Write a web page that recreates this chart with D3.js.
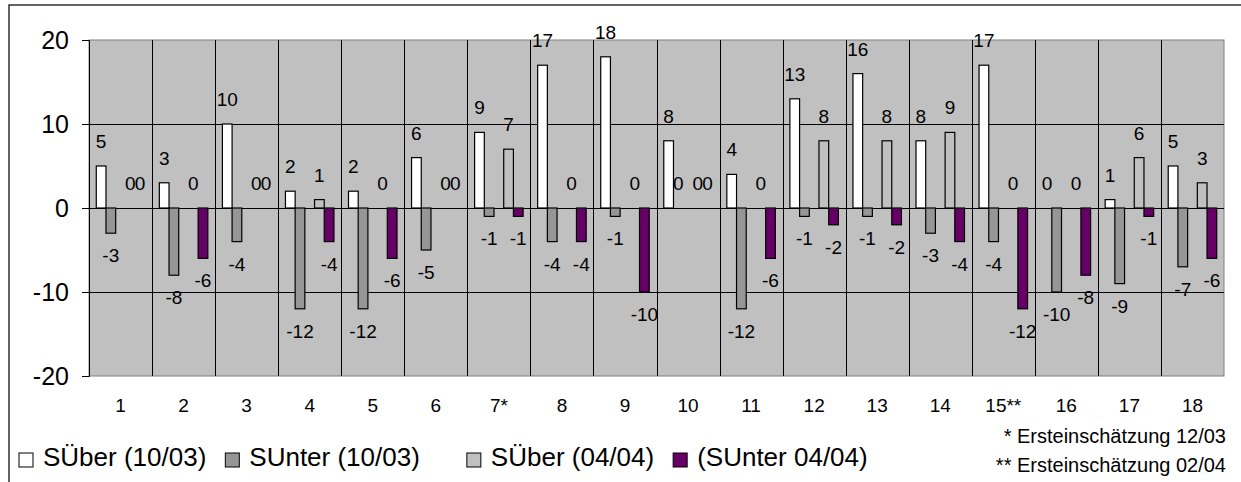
<!DOCTYPE html>
<html>
<head>
<meta charset="utf-8">
<script src="https://cdn.jsdelivr.net/npm/d3@7"></script>
<style>
  body { margin: 0; background: #fff; }
  text { font-family: "Liberation Sans", Arial, sans-serif; fill: #000; }
</style>
</head>
<body>
<div id="chart"></div>
<script>
// data
var categories = ["1","2","3","4","5","6","7*","8","9","10","11","12","13","14","15**","16","17","18"];
var seriesNames = ["SÜber (10/03)", "SUnter (10/03)", "", "SÜber (04/04)", "(SUnter 04/04)"];
var sUeber1003 = [5, 3, 10, 2, 2, 6, 9, 17, 18, 8, 4, 13, 16, 8, 17, 0, 1, 5];
var sUnter1003 = [-3, -8, -4, -12, -12, -5, -1, -4, -1, 0, -12, -1, -1, -3, -4, -10, -9, -7];
var sUeber0404 = [0, 0, 0, 1, 0, 0, 7, 0, 0, 0, 0, 8, 8, 9, 0, 0, 6, 3];
var sUnter0404 = [0, -6, 0, -4, -6, 0, -1, -4, -10, 0, -6, -2, -2, -4, -12, -8, -1, -6];
var yTicks = [-20, -10, 0, 10, 20];
var footnotes = ["* Ersteinschätzung 12/03", "** Ersteinschätzung 02/04"];

var seriesValues = [sUeber1003, sUnter1003, null, sUeber0404, sUnter0404];
var seriesColors = ["#ffffff", "#969696", null, "#c0c0c0", "#660066"];

var width = 1241, height = 482;
var plot = { left: 89, right: 1224, top: 40, bottom: 376 };

var svg = d3.select("#chart").append("svg")
    .attr("width", width)
    .attr("height", height);

// outer chart frame (right and bottom run off the picture)
svg.append("rect")
    .attr("x", 9).attr("y", 5)
    .attr("width", 1300).attr("height", 600)
    .attr("fill", "none")
    .attr("stroke", "#111")
    .attr("stroke-width", 1.3);

var x = d3.scaleBand()
    .domain(categories)
    .range([plot.left, plot.right])
    .padding(0);

var slot = d3.scaleBand()
    .domain(d3.range(seriesNames.length))
    .range([0, x.bandwidth()])
    .paddingInner(0)
    .paddingOuter(0.75);

var y = d3.scaleLinear()
    .domain([-20, 20])
    .range([plot.bottom, plot.top]);

// plot area
svg.append("rect")
    .attr("x", plot.left).attr("y", plot.top)
    .attr("width", plot.right - plot.left)
    .attr("height", plot.bottom - plot.top)
    .attr("fill", "#c0c0c0")
    .attr("stroke", "#808080")
    .attr("stroke-width", 1);

// horizontal gridlines
svg.selectAll(".hgrid")
    .data(yTicks.filter(function(d) { return d > -20 && d < 20; }))
    .enter().append("line")
    .attr("class", "hgrid")
    .attr("x1", plot.left).attr("x2", plot.right)
    .attr("y1", function(d) { return Math.round(y(d)) + 0.5; })
    .attr("y2", function(d) { return Math.round(y(d)) + 0.5; })
    .attr("stroke", "#000");

// vertical category separators
svg.selectAll(".vgrid")
    .data(categories.slice(1))
    .enter().append("line")
    .attr("class", "vgrid")
    .attr("x1", function(d) { return Math.round(x(d)) + 0.5; })
    .attr("x2", function(d) { return Math.round(x(d)) + 0.5; })
    .attr("y1", plot.top).attr("y2", plot.bottom)
    .attr("stroke", "#000");

// y axis
var yAxis = svg.append("g")
    .attr("transform", "translate(" + plot.left + ",0)")
    .call(d3.axisLeft(y).tickValues(yTicks).tickSize(7).tickPadding(13)
      .tickFormat(function(d) { return String(d); }));
yAxis.select(".domain").attr("stroke", "#000");
yAxis.selectAll(".tick line").attr("stroke", "#000");
yAxis.selectAll("text")
    .style("font-size", "25px")
    .attr("fill", "#000");

// category labels
svg.selectAll(".cat")
    .data(categories)
    .enter().append("text")
    .attr("class", "cat")
    .attr("x", function(d) { return x(d) + x.bandwidth() / 2; })
    .attr("y", 412)
    .attr("text-anchor", "middle")
    .style("font-size", "19px")
    .text(function(d) { return d; });

// series groups
var series = seriesNames.map(function(name, i) {
  return { name: name, index: i, color: seriesColors[i], values: seriesValues[i] };
}).filter(function(s) { return s.values; });

function bars(s) {
  return s.values.map(function(v, j) { return { cat: categories[j], value: v, s: s.index }; });
}

// value labels (under the bars, as in the original)
series.forEach(function(s) {
  svg.append("g").selectAll("text")
    .data(bars(s))
    .enter().append("text")
    .attr("x", function(d) { return x(d.cat) + slot(d.s) + slot.bandwidth() / 2; })
    .attr("y", function(d) { return d.value >= 0 ? y(d.value) - 18 : y(d.value) + 29; })
    .attr("text-anchor", "middle")
    .style("font-size", "19px")
    .text(function(d) { return d.value; });
});

// zero line
svg.append("line")
    .attr("x1", plot.left).attr("x2", plot.right)
    .attr("y1", Math.round(y(0)) + 0.5).attr("y2", Math.round(y(0)) + 0.5)
    .attr("stroke", "#000");

// bars
series.forEach(function(s) {
  svg.append("g").selectAll("rect")
    .data(bars(s).filter(function(d) { return d.value !== 0; }))
    .enter().append("rect")
    .attr("x", function(d) { return x(d.cat) + slot(d.s); })
    .attr("y", function(d) { return y(Math.max(0, d.value)); })
    .attr("width", slot.bandwidth())
    .attr("height", function(d) { return Math.abs(y(d.value) - y(0)); })
    .attr("fill", s.color)
    .attr("stroke", "#000")
    .attr("stroke-width", 1.2);
});

// legend
var lx = 19;
seriesNames.forEach(function(name, i) {
  if (!name) { lx += 28; return; }
  svg.append("rect")
    .attr("x", lx).attr("y", 453)
    .attr("width", 14).attr("height", 14)
    .attr("fill", seriesColors[i])
    .attr("stroke", "#000");
  var t = svg.append("text")
    .attr("x", lx + 24).attr("y", 466)
    .style("font-size", "26px")
    .text(name);
  lx += 24 + t.node().getComputedTextLength() + 19;
});

// footnotes
svg.selectAll(".note")
    .data(footnotes)
    .enter().append("text")
    .attr("class", "note")
    .attr("x", 1226)
    .attr("y", function(d, i) { return 443 + i * 28.5; })
    .attr("text-anchor", "end")
    .style("font-size", "20px")
    .text(function(d) { return d; });
</script>
</body>
</html>
